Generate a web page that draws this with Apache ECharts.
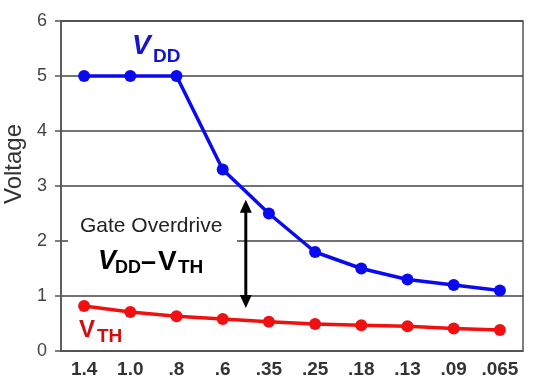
<!DOCTYPE html>
<html>
<head>
<meta charset="utf-8">
<script src="https://cdn.jsdelivr.net/npm/echarts@6/dist/echarts.min.js"></script>
<style>
html,body{margin:0;padding:0;background:#fff;}
#c{width:537px;height:391px;}
</style>
</head>
<body>
<div id="c"></div>
<script>
// ---- data ----
const categories = ['1.4', '1.0', '.8', '.6', '.35', '.25', '.18', '.13', '.09', '.065'];
const vddValues = [5, 5, 5, 3.3, 2.5, 1.8, 1.5, 1.3, 1.2, 1.1];
const vthValues = [0.82, 0.71, 0.63, 0.58, 0.53, 0.49, 0.47, 0.45, 0.41, 0.38];
const yTicks = [0, 1, 2, 3, 4, 5, 6];
const yAxisName = 'Voltage';
// arrow annotation: spans between these categories and voltages
const arrowBetween = ['.6', '.35'];
const arrowFrom = 2.75;
const arrowTo = 0.78;

const chart = echarts.init(document.getElementById('c'), null, {renderer: 'canvas'});
const FONT = 'Liberation Sans, Arial, sans-serif';
const BLUE = '#0a0af0';
const RED = '#f01010';

chart.setOption({
  animation: false,
  backgroundColor: '#fff',
  grid: {left: 61, right: 14, top: 21, bottom: 40, show: true, borderColor: '#555', borderWidth: 1.5},
  xAxis: {
    type: 'category',
    data: categories,
    boundaryGap: true,
    axisLine: {lineStyle: {color: '#555', width: 1.5}},
    axisTick: {show: false},
    axisLabel: {interval: 0, fontFamily: FONT, fontSize: 19, fontWeight: 'bold', color: '#333', margin: 9}
  },
  yAxis: {
    type: 'value',
    min: yTicks[0],
    max: yTicks[yTicks.length - 1],
    interval: 1,
    axisLine: {show: true, lineStyle: {color: '#555', width: 1.5}},
    axisTick: {show: true, length: 6, lineStyle: {color: '#555', width: 1.5}},
    axisLabel: {fontFamily: FONT, fontSize: 18, color: '#444', margin: 14},
    splitLine: {lineStyle: {color: '#444', width: 1.5}}
  },
  series: [
    {
      name: 'VDD', type: 'line', data: vddValues,
      symbol: 'circle', symbolSize: 12,
      lineStyle: {color: BLUE, width: 3.5}, itemStyle: {color: BLUE}, z: 3
    },
    {
      name: 'VTH', type: 'line', data: vthValues,
      symbol: 'circle', symbolSize: 12,
      lineStyle: {color: RED, width: 3.5}, itemStyle: {color: RED}, z: 3
    }
  ]
});

function px(cat, val) { return chart.convertToPixel({gridIndex: 0}, [cat, val]); }
const ax = (px(arrowBetween[0], 0)[0] + px(arrowBetween[1], 0)[0]) / 2;
const ay1 = px(arrowBetween[0], arrowFrom)[1];
const ay2 = px(arrowBetween[0], arrowTo)[1];

function txt(text, x, y, size, color, weight, style) {
  return {
    type: 'text', z: 10,
    style: {text: text, x: x, y: y, fill: color,
      font: (style || 'normal') + ' ' + (weight || 'normal') + ' ' + size + 'px ' + FONT,
      textVerticalAlign: 'middle', verticalAlign: 'middle', textAlign: 'left', align: 'left'}
  };
}

chart.setOption({
  graphic: [
    {type: 'rect', z: 1, shape: {x: 68, y: 194, width: 169, height: 92}, style: {fill: '#fff'}},
    // arrow
    {type: 'line', z: 10, shape: {x1: ax, y1: ay1 + 10, x2: ax, y2: ay2 - 10}, style: {stroke: '#000', lineWidth: 3}},
    {type: 'polygon', z: 10, shape: {points: [[ax, ay1], [ax - 6, ay1 + 13], [ax + 6, ay1 + 13]]}, style: {fill: '#000'}},
    {type: 'polygon', z: 10, shape: {points: [[ax, ay2], [ax - 6, ay2 - 13], [ax + 6, ay2 - 13]]}, style: {fill: '#000'}},
    // y axis name
    {type: 'text', z: 10, rotation: Math.PI / 2, x: 14, y: 164,
      style: {text: yAxisName, x: 0, y: 0, fill: '#333', font: 'normal 24px ' + FONT,
        textAlign: 'center', align: 'center', textVerticalAlign: 'middle', verticalAlign: 'middle'}},
    // VDD label
    txt('V', 132, 46, 28, '#1515d0', 'bold', 'italic'),
    txt('DD', 153, 57, 19, '#1515d0', 'bold'),
    // Gate overdrive
    txt('Gate Overdrive', 80, 226, 21, '#222', 'normal'),
    txt('V', 98, 262, 27, '#000', 'bold', 'italic'),
    txt('DD', 115, 268, 18, '#000', 'bold'),
    txt('\u2013', 141, 263, 27, '#000', 'bold'),
    txt('V', 158, 262, 28, '#000', 'bold'),
    txt('TH', 178, 268, 19, '#000', 'bold'),
    // VTH label
    txt('V', 79, 330, 24, '#d01010', 'bold'),
    txt('TH', 97, 337, 19, '#d01010', 'bold')
  ]
});
</script>
</body>
</html>
